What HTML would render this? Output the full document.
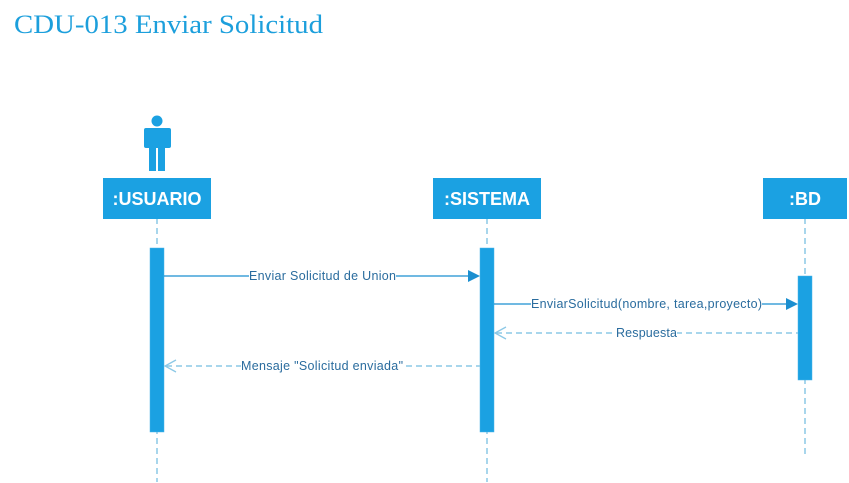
<!DOCTYPE html>
<html><head><meta charset="utf-8"><style>
html,body{margin:0;padding:0;background:#fff;}
svg{display:block;}
</style></head><body>
<svg width="849" height="483" viewBox="0 0 849 483" xmlns="http://www.w3.org/2000/svg">
<text x="14" y="33" font-family="Liberation Serif, serif" font-size="26" fill="#1c9fdc" textLength="309" lengthAdjust="spacingAndGlyphs">CDU-013 Enviar Solicitud</text>
<g fill="#1ba1e2">
<circle cx="157" cy="121" r="5.5"/>
<rect x="144" y="128" width="27" height="20" rx="2"/>
<rect x="149" y="140" width="7" height="31"/>
<rect x="158" y="140" width="7" height="31"/>
</g>
<g stroke="#8cc8e6" stroke-width="1.5" stroke-dasharray="6,4">
<line x1="157" y1="218" x2="157" y2="482"/>
<line x1="487" y1="218" x2="487" y2="482"/>
<line x1="805" y1="218" x2="805" y2="456"/>
</g>
<g fill="#1ba1e2">
<rect x="103" y="178" width="108" height="41"/>
<rect x="433" y="178" width="108" height="41"/>
<rect x="763" y="178" width="84" height="41"/>
</g>
<g font-family="Liberation Sans, sans-serif" font-size="18" font-weight="bold" fill="#fff" text-anchor="middle">
<text x="157" y="205">:USUARIO</text>
<text x="487" y="205">:SISTEMA</text>
<text x="805" y="205">:BD</text>
</g>
<g fill="#1ba1e2" stroke="#4ab4e8" stroke-width="0.5">
<rect x="150" y="248" width="14" height="184"/>
<rect x="480" y="248" width="14" height="184"/>
<rect x="798" y="276" width="14" height="104"/>
</g>
<g stroke="#1b8fd0" stroke-width="1.2">
<line x1="164" y1="276" x2="470" y2="276"/>
<line x1="494" y1="304" x2="788" y2="304"/>
</g>
<polygon points="480,276 468,270 468,282" fill="#1b8fd0"/>
<polygon points="798,304 786,298 786,310" fill="#1b8fd0"/>
<g stroke="#8cc8e6" stroke-width="1.5" stroke-dasharray="6,4" fill="none">
<line x1="496" y1="333" x2="798" y2="333"/>
<line x1="166" y1="366" x2="480" y2="366"/>
</g>
<g stroke="#8cc8e6" stroke-width="1.3" fill="none">
<polyline points="506,327 495,333 506,339"/>
<polyline points="176,360 165,366 176,372"/>
</g>
<g font-family="Liberation Sans, sans-serif" font-size="12.5" fill="#2a6c9e" lengthAdjust="spacingAndGlyphs">
<rect x="249" y="268" width="147" height="16" fill="#fff"/>
<text x="249" y="280" textLength="147">Enviar Solicitud de Union</text>
<rect x="531" y="296" width="231" height="16" fill="#fff"/>
<text x="531" y="308" textLength="231">EnviarSolicitud(nombre, tarea,proyecto)</text>
<rect x="616" y="325" width="61" height="16" fill="#fff"/>
<text x="616" y="337" textLength="61">Respuesta</text>
<rect x="241" y="358" width="162" height="16" fill="#fff"/>
<text x="241" y="370" textLength="162">Mensaje "Solicitud enviada"</text>
</g>
</svg>
</body></html>
